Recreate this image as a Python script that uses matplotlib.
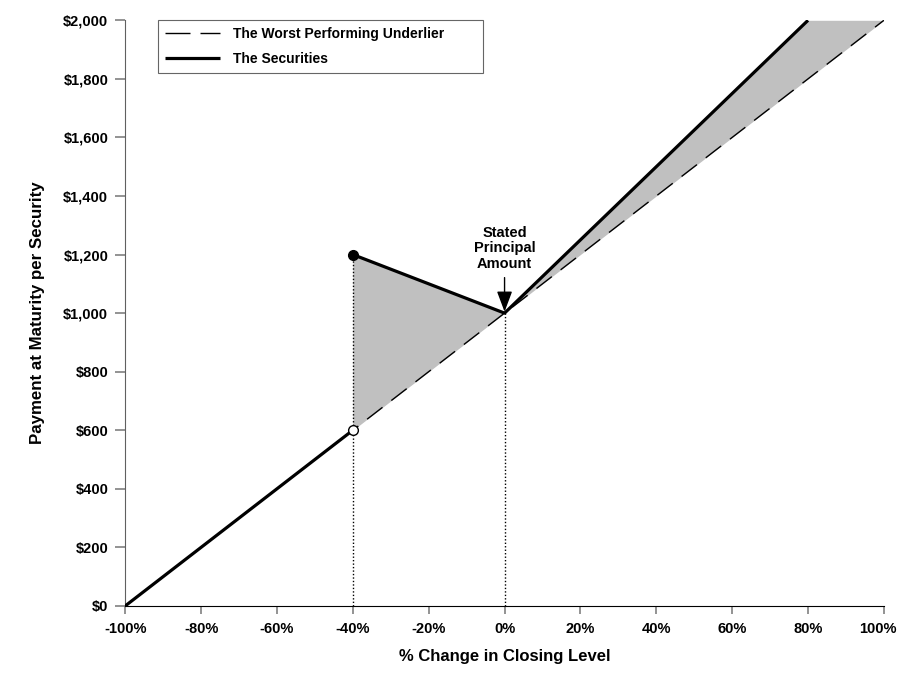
import matplotlib
matplotlib.use("Agg")
import matplotlib.pyplot as plt
import matplotlib.transforms as mtransforms
from matplotlib.ticker import FuncFormatter

plt.rcParams['font.family'] = ['Liberation Sans', 'DejaVu Sans']
plt.rcParams['font.weight'] = 'bold'

# values
under_x = [-100, 100]
under_y = [0, 2000]
sec_low_x = [-100, -40]
sec_low_y = [0, 600]
sec_up_x = [-40, 0, 80]
sec_up_y = [1200, 1000, 2000]
fill_x = [-40, 0, 80, 100]
fill_top = [1200, 1000, 2000, 2000]
fill_bot = [600, 1000, 1800, 2000]
x_ticks = [-100, -80, -60, -40, -20, 0, 20, 40, 60, 80, 100]
y_ticks = [0, 200, 400, 600, 800, 1000, 1200, 1400, 1600, 1800, 2000]

fig = plt.figure(figsize=(9.01, 6.77), dpi=100)
ax = fig.add_axes([0.139, 0.105, 0.842, 0.865])

ax.fill_between(fill_x, fill_bot, fill_top, color='#c0c0c0', linewidth=0, zorder=1)
ax.vlines([-40], 0, 1200, colors='black', linestyles=(0, (1, 1.5)), linewidth=1, zorder=2)
ax.vlines([0], 0, 1000, colors='black', linestyles=(0, (1, 1.5)), linewidth=1, zorder=2)
ax.plot(under_x, under_y, color='black', linewidth=1, dashes=(14, 8),
        label='The Worst Performing Underlier', zorder=3)
ax.plot(sec_low_x, sec_low_y, color='black', linewidth=2.3,
        label='The Securities', zorder=4, solid_capstyle='butt')
ax.plot(sec_up_x, sec_up_y, color='black', linewidth=2.3, zorder=4, solid_capstyle='butt')
ax.plot([-40], [1200], 'o', color='black', markersize=7, zorder=5)
ax.plot([-40], [600], 'o', markerfacecolor='white', markeredgecolor='black',
        markersize=7, markeredgewidth=1, zorder=5)

ax.annotate('Stated\nPrincipal\nAmount', xy=(0, 1000), xytext=(0, 1145),
            ha='center', va='bottom', fontsize=10.5, fontweight='bold', linespacing=1.12,
            arrowprops=dict(arrowstyle='-|>,head_width=0.45,head_length=1.2',
                            color='black', lw=1, shrinkA=3, shrinkB=1))

ax.set_xlim(-100, 100)
ax.set_ylim(0, 2000)
ax.set_xticks(x_ticks)
ax.set_yticks(y_ticks)
ax.xaxis.set_major_formatter(FuncFormatter(lambda v, p: f'{int(v)}%'))
ax.yaxis.set_major_formatter(FuncFormatter(lambda v, p: f'${int(v):,}'))
ax.tick_params(axis='both', labelsize=10.5, direction='out', color='#808080', width=1.2)
ax.tick_params(axis='y', length=7.2, pad=5)
ax.tick_params(axis='x', length=5.8, pad=5.8)
for lab in ax.get_xticklabels() + ax.get_yticklabels():
    lab.set_fontweight('bold')
# last x label sits a little left of its tick in the reference
last = ax.get_xticklabels()[-1]
last.set_transform(last.get_transform() +
                   mtransforms.ScaledTranslation(-6 / 100, 0, fig.dpi_scale_trans))

ax.spines['top'].set_visible(False)
ax.spines['right'].set_visible(False)
ax.spines['left'].set_color('#606060')
ax.spines['bottom'].set_color('black')

ax.set_xlabel('% Change in Closing Level', fontsize=12, fontweight='bold', labelpad=9)
ax.set_ylabel('Payment at Maturity per Security', fontsize=12.2, fontweight='bold', labelpad=13)

leg = ax.legend(loc='upper left', bbox_to_anchor=(0.043, 0.0, 0.428, 1.0), mode='expand',
                fontsize=10, frameon=True, fancybox=False, edgecolor='#404040',
                borderpad=0.5, handlelength=3.96, handletextpad=0.94,
                labelspacing=0.75, borderaxespad=0)
leg.get_frame().set_linewidth(0.8)
leg.get_lines()[0].set_dashes((18, 7.2))
for t in leg.get_texts():
    t.set_fontweight('bold')

fig.savefig('out.png', dpi=100)
